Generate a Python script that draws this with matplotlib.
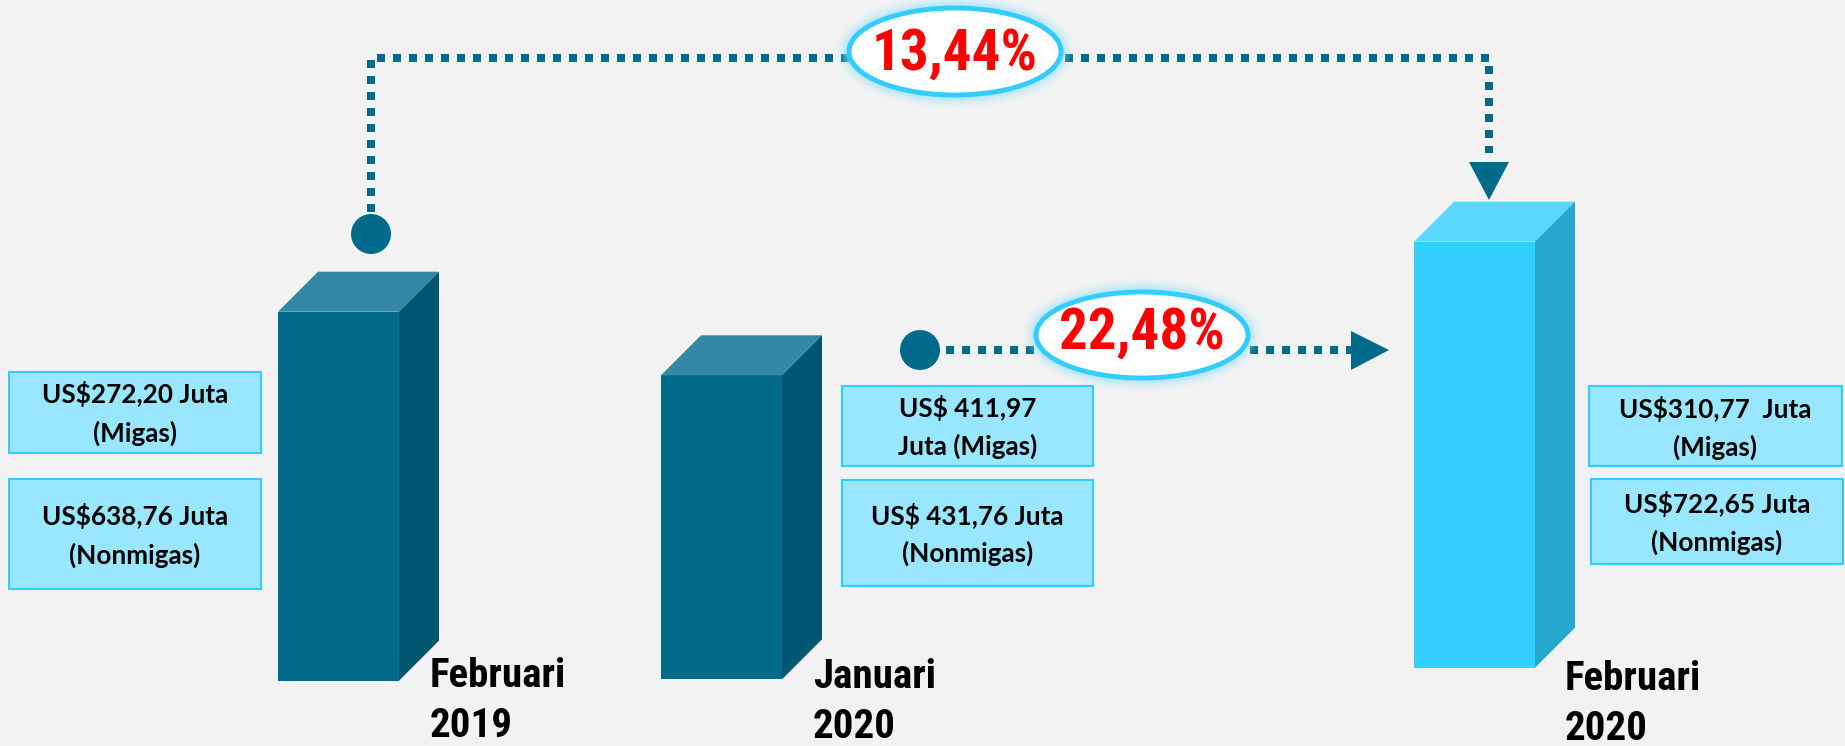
import os
import matplotlib
matplotlib.use("Agg")
import matplotlib.pyplot as plt
from matplotlib.patches import Polygon, Ellipse, Circle, Rectangle
from matplotlib import font_manager as fm

# ---------------- data ----------------
periods = ["Februari", "Januari", "Februari"]
years = ["2019", "2020", "2020"]
migas = [272.20, 411.97, 310.77]          # US$ juta
nonmigas = [638.76, 431.76, 722.65]       # US$ juta
migas_labels = [["US$272,20 Juta", "(Migas)"],
                ["US$ 411,97", "Juta (Migas)"],
                ["US$310,77  Juta", "(Migas)"]]
nonmigas_labels = [["US$638,76 Juta", "(Nonmigas)"],
                   ["US$ 431,76 Juta", "(Nonmigas)"],
                   ["US$722,65 Juta", "(Nonmigas)"]]
bar_heights = [369, 304, 426]   # drawn heights (arbitrary units)

totals = [m + n for m, n in zip(migas, nonmigas)]
yoy = (totals[2] / totals[0] - 1) * 100
mtm = (totals[2] / totals[1] - 1) * 100
fmt_pct = lambda v: f"{v:.2f}".replace(".", ",") + "%"

# ---------------- fonts ----------------
files = {os.path.splitext(os.path.basename(f.fname))[0].lower(): f.fname
         for f in fm.fontManager.ttflist}
narrow_fp = None
for cand in ["liberationsansnarrow-bold", "robotocondensed-bold", "notosans-condensedbold",
             "notosans-extracondensedbold", "dejavusanscondensed-bold"]:
    if cand in files:
        narrow_fp = fm.FontProperties(fname=files[cand])
        break
if narrow_fp is None:
    narrow_fp = fm.FontProperties(family="DejaVu Sans", weight="bold", stretch="condensed")

names = {f.name for f in fm.fontManager.ttflist}
boxfont = "Lato" if "Lato" in names else "DejaVu Sans"

# ---------------- style ----------------
W, H = 1845, 746
BG = "#F2F2F2"
DARK = "#006A8A"
bar_front = ["#026A8A", "#026A8A", "#33CFFF"]
bar_top = ["#3488A3", "#3488A3", "#5AD7FF"]
bar_side = ["#005570", "#005570", "#27A6CF"]
BOX_FILL = "#99E6FF"
BOX_EDGE = "#33CCFF"

fig = plt.figure(figsize=(W / 100, H / 100), dpi=100, facecolor=BG)
ax = fig.add_axes([0, 0, 1, 1])
ax.set_xlim(0, W)
ax.set_ylim(0, H)
ax.axis("off")
ax.set_facecolor(BG)

def Y(py):
    return H - py

# bars geometry (pixel layout)
bar_left = [278, 661, 1414]
bar_width = 121
bar_bottom = [Y(680.7), Y(679.3), Y(667.7)]
DX, DY = 40, 40

for i in range(3):
    xl = bar_left[i]
    xr = xl + bar_width
    b = bar_bottom[i]
    t = b + bar_heights[i]
    ax.bar(xl, bar_heights[i], width=bar_width, bottom=b, align="edge",
           color=bar_front[i], edgecolor="none", zorder=3)
    ax.add_patch(Polygon([(xl, t), (xl + DX, t + DY), (xr + DX, t + DY), (xr, t)],
                         closed=True, facecolor=bar_top[i], edgecolor="none", zorder=3))
    ax.add_patch(Polygon([(xr, b), (xr + DX, b + DY), (xr + DX, t + DY), (xr, t)],
                         closed=True, facecolor=bar_side[i], edgecolor="none", zorder=3))

# period labels
label_x = [429.5, 813, 1565]
label_base1 = [686.7, 687.7, 690]
label_base2 = [736.7, 738, 740]
for i in range(3):
    ax.text(label_x[i], Y(label_base1[i]), periods[i], ha="left", va="baseline",
            fontproperties=narrow_fp, fontsize=29.5, color="black", zorder=5)
    ax.text(label_x[i], Y(label_base2[i]), years[i], ha="left", va="baseline",
            fontproperties=narrow_fp, fontsize=29.5, color="black", zorder=5)

# value boxes
box1 = [(9, 372, 261, 452.7), (842, 386, 1093, 465.7), (1589, 385.6, 1842, 465.5)]
box2 = [(9, 478.7, 261, 589.3), (842, 480, 1093, 586), (1591, 478.8, 1843, 564.3)]
base_m = [(403, 441.7), (417, 455), (418, 456)]
base_n = [(525, 563.3), (525, 561.7), (513, 551)]
for i in range(3):
    for (x0, y0, x1, y1), lines, bases in ((box1[i], migas_labels[i], base_m[i]),
                                           (box2[i], nonmigas_labels[i], base_n[i])):
        ax.add_patch(Rectangle((x0, Y(y1)), x1 - x0, y1 - y0, facecolor=BOX_FILL,
                               edgecolor=BOX_EDGE, linewidth=1.5, zorder=4))
        cx = (x0 + x1) / 2
        for ln, bl in zip(lines, bases):
            ax.text(cx, Y(bl), ln, ha="center", va="baseline", fontsize=18.8,
                    fontweight="bold", family=boxfont, color="black", zorder=5)

# dotted connectors
LW = 5.76
ax.plot([371, 371, 1489, 1489], [Y(212), Y(58), Y(58), Y(153)], color=DARK, lw=LW,
        dashes=(1, 1), dash_capstyle="butt", solid_joinstyle="miter", zorder=2)
ax.add_patch(Circle((371, Y(234)), 20, facecolor=DARK, edgecolor="none", zorder=3))
ax.add_patch(Polygon([(1469, Y(162)), (1509, Y(162)), (1489, Y(200))], closed=True,
                     facecolor=DARK, edgecolor="none", zorder=3))

ax.plot([946, 1351], [Y(350), Y(350)], color=DARK, lw=LW, dashes=(1, 1),
        dash_capstyle="butt", zorder=2)
ax.add_patch(Circle((920, Y(350)), 20, facecolor=DARK, edgecolor="none", zorder=3))
ax.add_patch(Polygon([(1351, Y(331)), (1351, Y(370)), (1389, Y(350))], closed=True,
                     facecolor=DARK, edgecolor="none", zorder=3))

# percentage bubbles
def bubble(cx, cy, w, h, text, base):
    for k, a in zip([26, 19, 13, 8], [0.10, 0.15, 0.22, 0.32]):
        ax.add_patch(Ellipse((cx, Y(cy)), w + k, h + k, facecolor="#8FE2FF",
                             edgecolor="none", alpha=a, zorder=6))
    ax.add_patch(Ellipse((cx, Y(cy)), w, h, facecolor="white", edgecolor="#33CCFF",
                         linewidth=3.5, zorder=7))
    ax.text(cx, Y(base), text, ha="center", va="baseline", fontproperties=narrow_fp,
            fontsize=41, color="#FF0000", zorder=8)

bubble(955, 51.5, 212, 87, fmt_pct(yoy), 70)
bubble(1142, 335, 212, 86, fmt_pct(mtm), 349)

fig.savefig("out.png", dpi=100, facecolor=BG)
